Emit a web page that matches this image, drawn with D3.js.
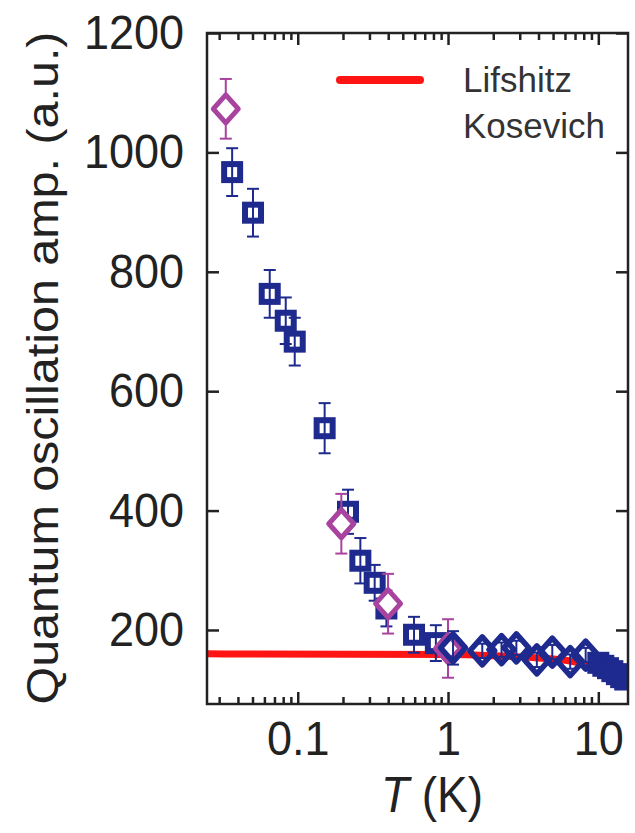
<!DOCTYPE html>
<html>
<head>
<meta charset="utf-8">
<script src="https://cdn.jsdelivr.net/npm/d3@7"></script>
<style>
  body { margin: 0; background: #fff; }
  svg { display: block; font-family: "Liberation Sans", Arial, sans-serif; }
</style>
</head>
<body>
<svg width="635" height="833"></svg>
<script>
// blue squares (low T and the high T cluster)
const sqT   = [0.0366, 0.0504, 0.0651, 0.0832, 0.0955, 0.151, 0.216, 0.261, 0.325, 0.389, 0.594, 0.83,
               10.0, 10.8, 11.6, 12.4, 13.3, 14.2, 15.1];
const sqAmp = [967, 899, 763, 718, 683, 538, 398, 316, 279, 236, 192, 178,
               145, 140, 136, 131, 126, 121, 117];
const sqErr = [40, 40, 40, 39, 40, 42, 37, 38, 30, 30, 30, 30,
               8, 8, 8, 8, 8, 8, 8];

// magenta diamonds
const mgT   = [0.0332, 0.195, 0.399, 1.0];
const mgAmp = [1073, 378, 244, 169];
const mgErr = [50, 50, 50, 49];

// blue diamonds
const bdT   = [1.08, 1.69, 2.27, 2.85, 3.9, 4.94, 6.5, 8.24];
const bdAmp = [170, 165, 167, 170, 150, 163, 147, 158];
const bdErr = [28, 12, 12, 12, 12, 12, 12, 12];

// Lifshitz-Kosevich curve
const lkT   = [0.0249, 1, 2, 4, 6.5, 10, 15.76];
const lkAmp = [160, 159, 157, 153, 148, 137, 118];

const yTicks = [200, 400, 600, 800, 1000, 1200];
const xMajor = [0.1, 1, 10];
const xMinor = [0.03, 0.04, 0.05, 0.06, 0.07, 0.08, 0.09,
                0.2, 0.3, 0.4, 0.5, 0.6, 0.7, 0.8, 0.9,
                2, 3, 4, 5, 6, 7, 8, 9];

const svg = d3.select('svg');
const pL = 207, pR = 628, pT = 33, pB = 704;
const ink = '#222';
const blue = '#1e2a8e', magenta = '#a8449f', red = '#ff1414';

const x = d3.scaleLog().domain([0.0249, 15.76]).range([pL, pR]);
const y = d3.scaleLinear().domain([76, 1200]).range([pB, pT]);

svg.append('clipPath').attr('id', 'plot')
  .append('rect').attr('x', pL).attr('y', pT)
  .attr('width', pR - pL).attr('height', pB - pT);

const g = svg.append('g').attr('clip-path', 'url(#plot)');

// LK line
const lk = lkT.map((t, i) => [t, lkAmp[i]]);
g.append('path')
  .attr('d', d3.line().x(d => x(d[0])).y(d => y(d[1])).curve(d3.curveMonotoneX)(lk))
  .attr('fill', 'none').attr('stroke', red).attr('stroke-width', 7);

function errorBars(T, A, E, color) {
  const data = T.map((t, i) => ({ t, a: A[i], e: E[i] }));
  const eg = g.append('g').attr('stroke', color).attr('stroke-width', 2);
  eg.selectAll('.v').data(data).enter().append('line')
    .attr('x1', d => x(d.t)).attr('x2', d => x(d.t))
    .attr('y1', d => y(d.a - d.e)).attr('y2', d => y(d.a + d.e));
  [-1, 1].forEach(s => {
    eg.selectAll('.c' + s).data(data).enter().append('line')
      .attr('x1', d => x(d.t) - 6).attr('x2', d => x(d.t) + 6)
      .attr('y1', d => y(d.a + s * d.e)).attr('y2', d => y(d.a + s * d.e));
  });
  return data;
}

// blue squares
const sq = errorBars(sqT, sqAmp, sqErr, blue);
g.selectAll('.sq').data(sq).enter().append('rect')
  .attr('x', d => x(d.t) - 8).attr('y', d => y(d.a) - 8)
  .attr('width', 16).attr('height', 16)
  .attr('fill', 'none').attr('stroke', blue).attr('stroke-width', 6);

const diamond = (cx, cy) => `M${cx},${cy - 14}L${cx + 12.5},${cy}L${cx},${cy + 14}L${cx - 12.5},${cy}Z`;

// magenta diamonds
const mg = errorBars(mgT, mgAmp, mgErr, magenta);
g.selectAll('.mg').data(mg).enter().append('path')
  .attr('d', d => diamond(x(d.t), y(d.a)))
  .attr('fill', '#fff').attr('stroke', magenta).attr('stroke-width', 5)
  .attr('stroke-linejoin', 'round');

// blue diamonds
const bd = errorBars(bdT, bdAmp, bdErr, blue);
g.selectAll('.bd').data(bd).enter().append('path')
  .attr('d', d => diamond(x(d.t), y(d.a)))
  .attr('fill', 'none').attr('stroke', blue).attr('stroke-width', 5.5)
  .attr('stroke-linejoin', 'round');

// axes
const fmt = d => d >= 1 ? d3.format('d')(d) : d3.format('.1f')(d);

const axL = svg.append('g').attr('transform', `translate(${pL},0)`)
  .call(d3.axisLeft(y).tickValues(yTicks).tickSize(-12).tickPadding(23).tickFormat(d3.format('d')));
const axR = svg.append('g').attr('transform', `translate(${pR},0)`)
  .call(d3.axisRight(y).tickValues(yTicks).tickSize(-12).tickFormat(''));
const axB = svg.append('g').attr('transform', `translate(0,${pB})`)
  .call(d3.axisBottom(x).tickValues(xMajor).tickSize(-12).tickPadding(15).tickFormat(fmt));
const axBm = svg.append('g').attr('transform', `translate(0,${pB})`)
  .call(d3.axisBottom(x).tickValues(xMinor).tickSize(-7).tickFormat(''));
const axT = svg.append('g').attr('transform', `translate(0,${pT})`)
  .call(d3.axisTop(x).tickValues(xMajor).tickSize(-12).tickFormat(''));
const axTm = svg.append('g').attr('transform', `translate(0,${pT})`)
  .call(d3.axisTop(x).tickValues(xMinor).tickSize(-7).tickFormat(''));

[axL, axR, axB, axBm, axT, axTm].forEach(a => {
  a.select('.domain').remove();
  a.selectAll('line').attr('stroke', ink).attr('stroke-width', 2.5);
  a.selectAll('text').attr('fill', ink).style('font-size', '45px')
    .attr('font-family', '"Liberation Sans", Arial, sans-serif')
    .attr('transform', 'scale(1,1.08)');
});

// frame
svg.append('rect')
  .attr('x', pL).attr('y', pT)
  .attr('width', pR - pL).attr('height', pB - pT)
  .attr('fill', 'none').attr('stroke', ink).attr('stroke-width', 2.5);

// axis titles
svg.append('text')
  .attr('transform', 'translate(58,368) rotate(-90)')
  .attr('text-anchor', 'middle')
  .attr('textLength', 673).attr('lengthAdjust', 'spacingAndGlyphs')
  .attr('fill', ink).style('font-size', '44px')
  .text('Quantum oscillation amp. (a.u.)');

const xt = svg.append('text')
  .attr('transform', 'translate(432,812) scale(1,1.08)')
  .attr('text-anchor', 'middle')
  .attr('fill', ink).style('font-size', '46px');
xt.append('tspan').attr('font-style', 'italic').text('T');
xt.append('tspan').text(' (K)');

// legend
svg.append('line')
  .attr('x1', 340).attr('x2', 420).attr('y1', 80).attr('y2', 80)
  .attr('stroke', red).attr('stroke-width', 8).attr('stroke-linecap', 'round');
svg.append('text').attr('x', 463).attr('y', 92)
  .attr('fill', '#333').style('font-size', '35px').text('Lifshitz');
svg.append('text').attr('x', 463).attr('y', 138)
  .attr('fill', '#333').style('font-size', '35px').text('Kosevich');
</script>
</body>
</html>
